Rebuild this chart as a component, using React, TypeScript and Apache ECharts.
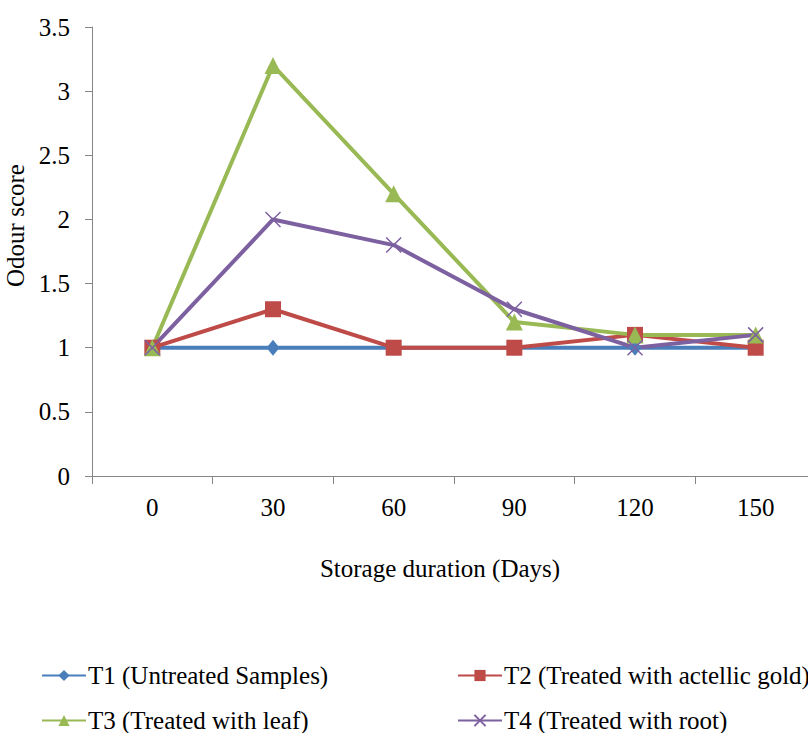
import React, { useEffect, useRef } from "react";
import * as echarts from "echarts";

const days = ["0", "30", "60", "90", "120", "150"];
const t1 = [1, 1, 1, 1, 1, 1];
const t2 = [1, 1.3, 1, 1, 1.1, 1];
const t3 = [1, 3.2, 2.2, 1.2, 1.1, 1.1];
const t4 = [1, 2, 1.8, 1.3, 1.0, 1.1];
const names = [
  "T1 (Untreated Samples)",
  "T2 (Treated with actellic gold)",
  "T3 (Treated with leaf)",
  "T4 (Treated with root)",
];

const FONT = "'Liberation Serif', 'Times New Roman', serif";

export default function App() {
  const ref = useRef<HTMLDivElement>(null);
  useEffect(() => {
    document.body.style.overflow = "hidden";
    const chart = echarts.init(ref.current!, null, { renderer: "svg" });
    const txt = { fontFamily: FONT, fontSize: 25, color: "#000" };
    const legendPos = [
      { left: 41, top: 663 },
      { left: 457, top: 663 },
      { left: 41, top: 708 },
      { left: 457, top: 708 },
    ];
    chart.setOption({
      animation: false,
      backgroundColor: "#fff",
      grid: { left: 92, top: 27, bottom: 257, right: -8, outerBoundsMode: "none", containLabel: false },
      legend: names.map((n, i) => ({
        data: [n],
        left: legendPos[i].left,
        top: legendPos[i].top,
        padding: 0,
        itemWidth: 44,
        itemHeight: 14,
        textStyle: { ...txt, lineHeight: 25, padding: [0, 0, 0, -3] },
      })),
      xAxis: {
        type: "category",
        data: days,
        boundaryGap: true,
        name: "Storage duration (Days)",
        nameLocation: "middle",
        nameGap: 80,
        nameTextStyle: { ...txt, padding: [0, 28, 0, 0] },
        axisLine: { lineStyle: { color: "#868686", width: 1 } },
        axisTick: { show: true, length: 8, alignWithLabel: false, lineStyle: { color: "#868686" } },
        axisLabel: { ...txt, margin: 19 },
        splitLine: { show: false },
      },
      yAxis: {
        type: "value",
        min: 0,
        max: 3.5,
        interval: 0.5,
        name: "Odour score",
        nameLocation: "middle",
        nameGap: 53,
        nameTextStyle: { ...txt, padding: [0, 0, 0, 52] },
        axisLine: { show: true, lineStyle: { color: "#868686", width: 1 } },
        axisTick: { show: true, length: 7, lineStyle: { color: "#868686" } },
        axisLabel: { ...txt, margin: 22 },
        splitLine: { show: false },
      },
      series: [
        {
          name: names[0],
          type: "line",
          data: t1,
          symbol: "diamond",
          symbolSize: [13, 16],
          lineStyle: { color: "#4A7EBB", width: 4 },
          itemStyle: { color: "#4A7EBB" },
        },
        {
          name: names[1],
          type: "line",
          data: t2,
          symbol: "rect",
          symbolSize: 16,
          lineStyle: { color: "#BE4B48", width: 4 },
          itemStyle: { color: "#BE4B48" },
        },
        {
          name: names[2],
          type: "line",
          data: t3,
          symbol: "triangle",
          symbolSize: 17,
          lineStyle: { color: "#98B954", width: 4 },
          itemStyle: { color: "#98B954" },
        },
        {
          name: names[3],
          type: "line",
          data: t4,
          symbol: "path://M0,0L10,10M10,0L0,10",
          symbolSize: 15,
          lineStyle: { color: "#7D60A0", width: 4 },
          itemStyle: { color: "rgba(0,0,0,0)", borderColor: "#7D60A0", borderWidth: 1.5 },
        },
      ],
    });
    return () => chart.dispose();
  }, []);
  return (
    <div
      ref={ref}
      style={{ position: "fixed", left: 0, top: 0, width: 808, height: 733 }}
    />
  );
}
